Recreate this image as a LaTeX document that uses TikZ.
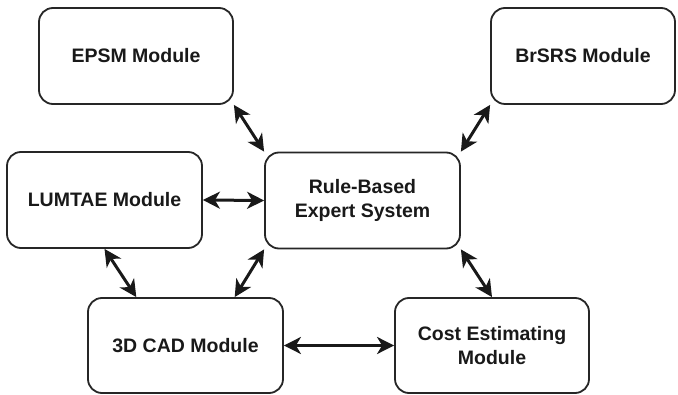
\documentclass[tikz,border=0pt]{standalone}
\usepackage{fontspec}
\setmainfont{Liberation Sans}
\usetikzlibrary{arrows.meta,calc}
\begin{document}
\begin{tikzpicture}[x=1pt,y=-1pt,
  modbox/.style={draw=black!85, line width=1.8pt, rounded corners=14pt,
    minimum width=194pt, minimum height=96pt, align=center,
    font=\fontsize{19.5}{24}\selectfont\bfseries, text=black!90},
  link/.style={line width=3pt, draw=black!90,
    {Stealth[length=17pt,width=17pt,inset=5pt]}-{Stealth[length=17pt,width=17pt,inset=5pt]}}]
\useasboundingbox (0,0) rectangle (678,395);
\node[modbox] (epsm) at (136,56) {EPSM Module};
\node[modbox, minimum width=184pt] (brsrs) at (583,56) {BrSRS Module};
\node[modbox, minimum width=195pt] (lumtae) at (104.5,200) {LUMTAE Module};
\node[modbox, minimum width=195pt] (rule) at (362.5,200.5) {Rule-Based\\Expert System};
\node[modbox, minimum width=195pt, minimum height=95pt] (cad) at (185.5,345.5) {3D CAD Module};
\node[modbox, minimum height=95pt] (cost) at (492,345.5) {Cost Estimating\\Module};
\coordinate (cadA) at ($(cad.north west)!0.25!(cad.north east)$);
\coordinate (cadB) at ($(cad.north west)!0.75!(cad.north east)$);
\draw[link] (epsm.south east) -- (rule.north west);
\draw[link] (brsrs.south west) -- (rule.north east);
\draw[link] (lumtae.east) -- (rule.west);
\draw[link] (lumtae.south) -- (cadA);
\draw[link] (rule.south west) -- (cadB);
\draw[link] (rule.south east) -- (cost.north);
\draw[link] (cad.east) -- (cost.west);
\end{tikzpicture}
\end{document}
